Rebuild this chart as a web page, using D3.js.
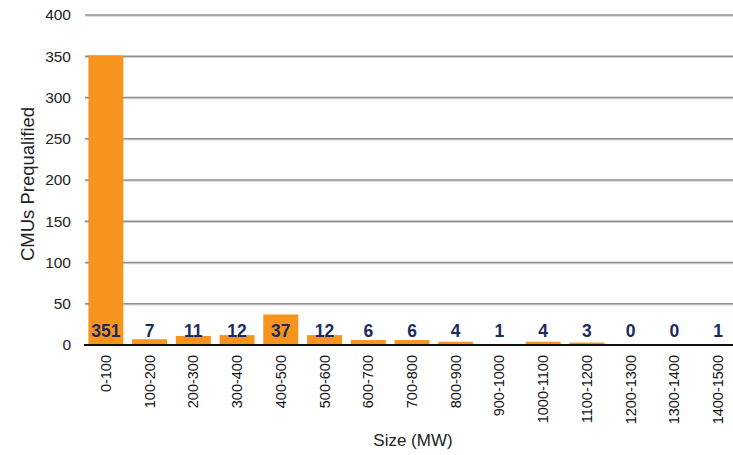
<!DOCTYPE html>
<html>
<head>
<meta charset="utf-8">
<script src="https://cdn.jsdelivr.net/npm/d3@7"></script>
<style>
  html, body { margin: 0; padding: 0; background: #fff; }
  svg { display: block; font-family: "Liberation Sans", Arial, sans-serif; }
</style>
</head>
<body>
<svg id="chart" width="733" height="455"></svg>
<script>
// CMU counts by unit size band
const categories = ["0-100","100-200","200-300","300-400","400-500","500-600","600-700","700-800","800-900","900-1000","1000-1100","1100-1200","1200-1300","1300-1400","1400-1500"];
const counts = [351, 7, 11, 12, 37, 12, 6, 6, 4, 1, 4, 3, 0, 0, 1];
const yTicks = [0, 50, 100, 150, 200, 250, 300, 350, 400];

const svg = d3.select("#chart");
const W = 733;
const plotLeft = 84, plotRight = 740, plotTop = 15, plotBottom = 345;

const x = d3.scaleBand().domain(categories).range([plotLeft, plotRight]).paddingInner(0.2).paddingOuter(0.1);
const y = d3.scaleLinear().domain([0, 400]).range([plotBottom, plotTop]);

// horizontal gridlines with a soft shadow line beneath
const grid = svg.append("g");
yTicks.filter(t => t > 0).forEach(t => {
  grid.append("line").attr("x1", plotLeft + 1).attr("x2", W).attr("y1", y(t) + 1.2).attr("y2", y(t) + 1.2)
    .attr("stroke", "#cfcfcf").attr("stroke-width", 1);
  grid.append("line").attr("x1", plotLeft + 1).attr("x2", W).attr("y1", y(t)).attr("y2", y(t))
    .attr("stroke", "#8f8f8f").attr("stroke-width", 1.3);
});

// y axis tick labels
const yAxis = d3.axisLeft(y).tickValues(yTicks).tickSize(0).tickPadding(0);
const yg = svg.append("g").attr("transform", `translate(${plotLeft - 13},0)`).call(yAxis);
yg.select(".domain").remove();
yg.selectAll("text").attr("font-size", 15.5).attr("fill", "#222").attr("font-family", "Liberation Sans, Arial, sans-serif");

// bars
svg.append("g").selectAll("rect").data(categories).join("rect")
  .attr("x", d => x(d))
  .attr("width", x.bandwidth())
  .attr("y", (d, i) => y(counts[i]))
  .attr("height", (d, i) => y(0) - y(counts[i]))
  .attr("fill", "#F7941D");

// baseline
svg.append("line").attr("x1", plotLeft).attr("x2", W).attr("y1", y(0)).attr("y2", y(0))
  .attr("stroke", "#111").attr("stroke-width", 2);

// value labels sitting just above the baseline
svg.append("g").selectAll("text").data(categories).join("text")
  .attr("x", d => x(d) + x.bandwidth() / 2)
  .attr("y", y(0) - 8)
  .attr("text-anchor", "middle")
  .attr("font-size", 17.5)
  .attr("font-weight", "bold")
  .attr("fill", "#1c2b5e")
  .text((d, i) => counts[i]);

// x axis category labels, rotated
const xAxis = d3.axisBottom(x).tickSize(0).tickPadding(0);
const xg = svg.append("g").attr("transform", `translate(0,${y(0)})`).call(xAxis);
xg.select(".domain").remove();
xg.selectAll("text")
  .attr("font-size", 14.5)
  .attr("fill", "#111")
  .attr("font-family", "Liberation Sans, Arial, sans-serif")
  .attr("text-anchor", "end")
  .attr("dy", null)
  .attr("y", 0)
  .attr("transform", "translate(5,10) rotate(-90)");

// axis titles
svg.append("text").attr("x", 413).attr("y", 446).attr("text-anchor", "middle")
  .attr("font-size", 17).attr("fill", "#222").text("Size (MW)");
svg.append("text").attr("transform", `translate(34,184) rotate(-90)`).attr("text-anchor", "middle")
  .attr("font-size", 18.5).attr("fill", "#222").text("CMUs Prequalified");
</script>
</body>
</html>
